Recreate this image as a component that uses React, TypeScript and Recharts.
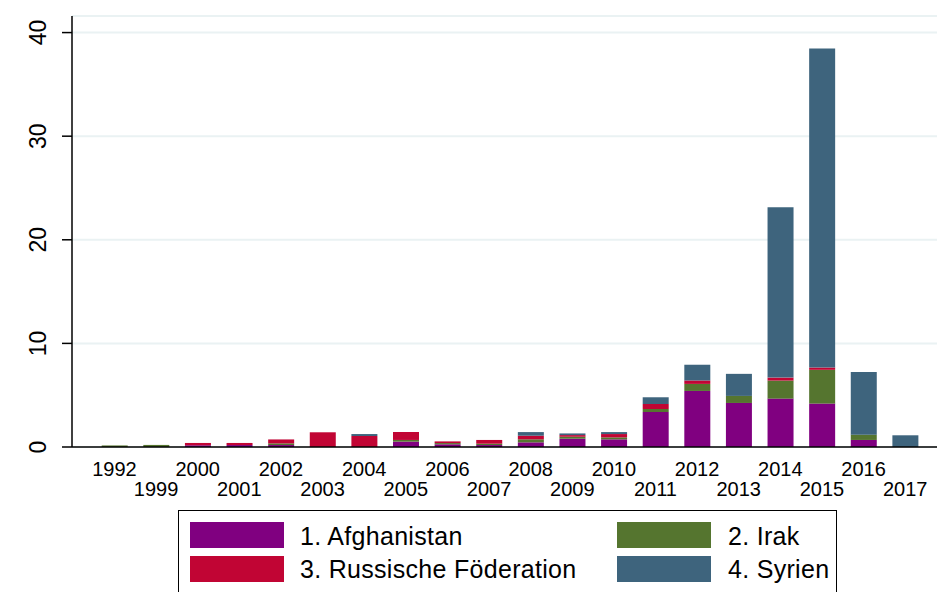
import React from 'react';
import { BarChart, Bar, XAxis, YAxis, CartesianGrid } from 'recharts';

const years = ['1992', '1999', '2000', '2001', '2002', '2003', '2004', '2005', '2006', '2007', '2008', '2009', '2010', '2011', '2012', '2013', '2014', '2015', '2016', '2017'];
const afghanistan = [0, 0, 0.17, 0.19, 0.19, 0, 0, 0.52, 0.26, 0.19, 0.45, 0.8, 0.74, 3.38, 5.41, 4.25, 4.67, 4.19, 0.68, 0];
const irak = [0.15, 0.2, 0, 0, 0.16, 0, 0, 0.16, 0.12, 0.13, 0.29, 0.19, 0.19, 0.29, 0.68, 0.68, 1.74, 3.26, 0.51, 0];
const russland = [0, 0, 0.22, 0.2, 0.38, 1.42, 1.06, 0.77, 0.16, 0.36, 0.35, 0.16, 0.32, 0.48, 0.33, 0, 0.29, 0.22, 0, 0];
const syrien = [0, 0, 0, 0, 0, 0, 0.19, 0, 0, 0, 0.35, 0.16, 0.19, 0.65, 1.52, 2.13, 16.43, 30.8, 6.04, 1.13];
const yTicks = [0, 10, 20, 30, 40];

const seriesNames = ['1. Afghanistan', '2. Irak', '3. Russische Föderation', '4. Syrien'];
const colors = ['#800080', '#55752f', '#c10534', '#3e647d'];

const data = years.map((y, i) => ({
  year: y,
  afg: afghanistan[i],
  irq: irak[i],
  rus: russland[i],
  syr: syrien[i],
}));

const FONT = '"Liberation Sans", Arial, Helvetica, sans-serif';

const XTick = (props: any) => {
  const { x, payload, index } = props;
  const baseline = index % 2 === 0 ? 476 : 496;
  return (
    <text x={x} y={baseline} textAnchor="middle" fontSize={20} fontFamily={FONT} fill="#000">
      {payload.value}
    </text>
  );
};

const YTick = (props: any) => {
  const { y, payload } = props;
  const x = 46;
  return (
    <text
      x={x}
      y={y}
      textAnchor="middle"
      fontSize={23}
      fontFamily={FONT}
      fill="#000"
      transform={`rotate(-90, ${x}, ${y})`}
    >
      {payload.value}
    </text>
  );
};

const Swatch = ({ left, top, color }: { left: number; top: number; color: string }) => (
  <div style={{ position: 'absolute', left, top, width: 94, height: 26, background: color }} />
);

const Label = ({ left, top, text }: { left: number; top: number; text: string }) => (
  <div
    style={{
      position: 'absolute',
      left,
      top,
      fontSize: 25,
      letterSpacing: '0.3px',
      lineHeight: '26px',
      fontFamily: FONT,
      color: '#000',
      whiteSpace: 'nowrap',
    }}
  >
    {text}
  </div>
);

export default function App() {
  return (
    <div
      style={{
        position: 'absolute',
        left: 0,
        top: 0,
        width: 937,
        height: 592,
        overflow: 'hidden',
        background: '#fff',
        fontFamily: FONT,
      }}
    >
      <BarChart
        width={937}
        height={592}
        data={data}
        margin={{ top: 16, right: 0, bottom: 0, left: 0 }}
        barSize={26}
      >
        <CartesianGrid horizontal vertical={false} stroke="#eaf2f3" strokeWidth={2} />
        <XAxis
          dataKey="year"
          interval={0}
          tickLine={false}
          axisLine={{ stroke: '#000', strokeWidth: 1.5 }}
          tick={<XTick />}
          padding={{ left: 21.7, right: 11 }}
          height={145}
        />
        <YAxis
          type="number"
          domain={[0, 41.6]}
          ticks={yTicks}
          width={72}
          tickSize={10}
          tickLine={{ stroke: '#000', strokeWidth: 1.5 }}
          axisLine={{ stroke: '#000', strokeWidth: 1.5 }}
          tick={<YTick />}
          allowDataOverflow
        />
        <Bar dataKey="afg" stackId="a" fill={colors[0]} isAnimationActive={false} />
        <Bar dataKey="irq" stackId="a" fill={colors[1]} isAnimationActive={false} />
        <Bar dataKey="rus" stackId="a" fill={colors[2]} isAnimationActive={false} />
        <Bar dataKey="syr" stackId="a" fill={colors[3]} isAnimationActive={false} />
      </BarChart>
      <div
        style={{
          position: 'absolute',
          left: 178,
          top: 510,
          width: 659,
          height: 100,
          border: '1.5px solid #000',
          boxSizing: 'border-box',
          background: '#fff',
        }}
      />
      <Swatch left={190} top={522} color={colors[0]} />
      <Label left={300} top={523} text={seriesNames[0]} />
      <Swatch left={617} top={522} color={colors[1]} />
      <Label left={728} top={523} text={seriesNames[1]} />
      <Swatch left={190} top={556} color={colors[2]} />
      <Label left={300} top={556} text={seriesNames[2]} />
      <Swatch left={617} top={556} color={colors[3]} />
      <Label left={728} top={556} text={seriesNames[3]} />
    </div>
  );
}
